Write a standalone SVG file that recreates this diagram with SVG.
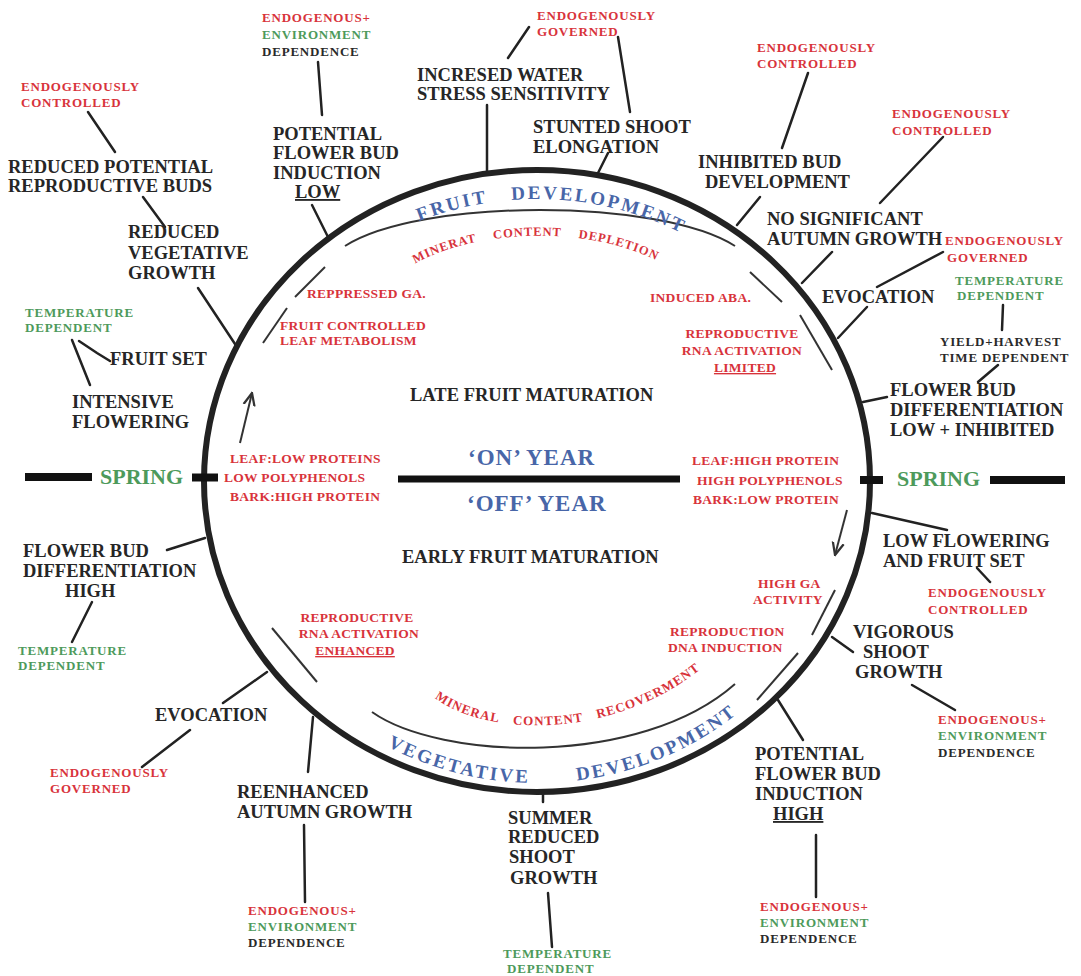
<svg xmlns="http://www.w3.org/2000/svg" width="1081" height="976" viewBox="0 0 1081 976">
<style>
text{font-family:"Liberation Serif","Times New Roman",serif;font-weight:bold}
.d{fill:#262626;font-size:18.5px}
.s{font-size:13px;letter-spacing:0.8px}
.m{font-size:13.5px;letter-spacing:0.3px}
.r{fill:#d8333b}
.g{fill:#4d9a5b}
.k{fill:#2a2a2a}
.b{fill:#4866a8}
.u{text-decoration:underline}
.c line,.c polyline{stroke:#222;stroke-width:2.5;fill:none;stroke-linecap:round}
.thin{stroke:#333;stroke-width:2;fill:none}
.bar{stroke:#111;stroke-width:8}
</style>
<defs>
<marker id="ah" viewBox="0 0 10 10" refX="9" refY="5" markerWidth="7" markerHeight="7" orient="auto">
<path d="M0,1 L9,5 L0,9" fill="none" stroke="#333" stroke-width="1.6"/>
</marker>
<path id="pTop" d="M410,225 A303,282 0 0 1 700,243.3"/>
<path id="pBot" d="M387,746.3 A314,302 0 0 0 760,693.6"/>
<path id="pMinTop" d="M405,270 C470,225 610,222 680,275"/>
<path id="pMinBot" d="M430,694 C480,738 620,744 715,657"/>
</defs>
<rect width="1081" height="976" fill="#fff"/>

<g id="cycle">
<ellipse cx="537" cy="481" rx="333" ry="311" fill="none" stroke="#222" stroke-width="6"/>
<path class="thin" d="M345,246 C420,198 660,198 735,246"/>
<path class="thin" d="M372,712 C440,760 640,768 735,684"/>
<line class="thin" x1="295" y1="297" x2="325" y2="267"/>
<line class="thin" x1="263" y1="343" x2="287" y2="308"/>
<line class="thin" x1="750" y1="272" x2="782" y2="302"/>
<line class="thin" x1="800" y1="315" x2="832" y2="370"/>
<line class="thin" x1="835" y1="590" x2="812" y2="635"/>
<line class="thin" x1="798" y1="653" x2="757" y2="700"/>
<line class="thin" x1="272" y1="628" x2="317" y2="682"/>
<line class="thin" x1="240" y1="443" x2="252" y2="393" marker-end="url(#ah)"/>
<line class="thin" x1="847" y1="510" x2="835" y2="555" marker-end="url(#ah)"/>
<line class="bar" x1="398" y1="479" x2="680" y2="479" style="stroke-width:7"/>
</g>

<g id="n-fruit-dev"><text class="b" font-size="19" letter-spacing="2.5"><textPath href="#pTop" startOffset="10">FRUIT</textPath></text><text class="b" font-size="19" letter-spacing="2.5"><textPath href="#pTop" startOffset="105">DEVELOPMENT</textPath></text></g>
<g id="n-veg-dev"><text class="b" font-size="19" letter-spacing="2.5"><textPath href="#pBot" startOffset="0">VEGETATIVE</textPath></text><text class="b" font-size="19" letter-spacing="2.5"><textPath href="#pBot" startOffset="196">DEVELOPMENT</textPath></text></g>
<g id="n-mineral-top"><text class="r" font-size="12.5" letter-spacing="0.9" word-spacing="13"><textPath href="#pMinTop" startOffset="12">MINERAT CONTENT DEPLETION</textPath></text></g>
<g id="n-mineral-bottom"><text class="r" font-size="13" letter-spacing="1" word-spacing="10"><textPath href="#pMinBot" startOffset="6">MINERAL CONTENT RECOVERMENT</textPath></text></g>

<g id="n-on-year"><text class="b" x="468" y="465" font-size="23" letter-spacing="1">‘ON’ YEAR</text></g>
<g id="n-off-year"><text class="b" x="467" y="511" font-size="23" letter-spacing="1">‘OFF’ YEAR</text></g>
<g id="n-late"><text class="d" x="410" y="401">LATE FRUIT MATURATION</text></g>
<g id="n-early"><text class="d" x="402" y="563">EARLY FRUIT MATURATION</text></g>
<g id="n-left-chem" class="r m"><text x="230" y="463">LEAF:LOW PROTEINS</text><text x="224" y="482">LOW POLYPHENOLS</text><text x="230" y="501">BARK:HIGH PROTEIN</text></g>
<g id="n-right-chem" class="r m"><text x="692" y="465">LEAF:HIGH PROTEIN</text><text x="697" y="485">HIGH POLYPHENOLS</text><text x="693" y="504">BARK:LOW PROTEIN</text></g>
<g id="n-repressed"><text class="r m" x="307" y="298">REPPRESSED GA.</text></g>
<g id="n-fruit-ctrl" class="r m"><text x="280" y="330">FRUIT CONTROLLED</text><text x="280" y="345">LEAF METABOLISM</text></g>
<g id="n-aba"><text class="r m" x="650" y="302">INDUCED ABA.</text></g>
<g id="n-rna-limited" class="r m" text-anchor="middle"><text x="742" y="338">REPRODUCTIVE</text><text x="742" y="355">RNA ACTIVATION</text><text class="u" x="745" y="372">LIMITED</text></g>
<g id="n-rna-enhanced" class="r m" text-anchor="middle"><text x="357" y="622">REPRODUCTIVE</text><text x="359" y="638">RNA ACTIVATION</text><text class="u" x="355" y="655">ENHANCED</text></g>
<g id="n-highga" class="r m"><text x="758" y="588">HIGH GA</text><text x="753" y="604">ACTIVITY</text></g>
<g id="n-dna" class="r m"><text x="670" y="636">REPRODUCTION</text><text x="668" y="652">DNA INDUCTION</text></g>

<g id="connectors" class="c">
<line x1="88" y1="112" x2="115" y2="152"/>
<line x1="143" y1="197" x2="165" y2="227"/>
<line x1="198" y1="288" x2="237" y2="347"/>
<line x1="72" y1="340" x2="90" y2="385"/>
<polyline points="79,341 97,353 110,361"/>
<line x1="167" y1="550" x2="205" y2="538"/>
<line x1="92" y1="602" x2="72" y2="642"/>
<line x1="223" y1="703" x2="267" y2="672"/>
<line x1="190" y1="730" x2="142" y2="767"/>
<line x1="313" y1="717" x2="308" y2="772"/>
<line x1="304" y1="825" x2="305" y2="902"/>
<line x1="543" y1="793" x2="543" y2="802"/>
<line x1="548" y1="893" x2="552" y2="947"/>
<line x1="778" y1="700" x2="803" y2="740"/>
<line x1="816" y1="835" x2="816" y2="897"/>
<line x1="832" y1="637" x2="853" y2="652"/>
<line x1="912" y1="685" x2="955" y2="710"/>
<line x1="872" y1="513" x2="947" y2="530"/>
<line x1="977" y1="568" x2="990" y2="582"/>
<line x1="863" y1="402" x2="887" y2="397"/>
<line x1="998" y1="365" x2="978" y2="382"/>
<line x1="1003" y1="305" x2="1002" y2="330"/>
<line x1="838" y1="338" x2="867" y2="307"/>
<line x1="877" y1="287" x2="943" y2="252"/>
<line x1="802" y1="283" x2="832" y2="252"/>
<line x1="880" y1="203" x2="943" y2="137"/>
<line x1="737" y1="225" x2="760" y2="197"/>
<line x1="782" y1="148" x2="808" y2="73"/>
<line x1="598" y1="173" x2="608" y2="153"/>
<line x1="630" y1="112" x2="618" y2="37"/>
<line x1="508" y1="58" x2="529" y2="27"/>
<line x1="487" y1="105" x2="487" y2="172"/>
<line x1="318" y1="62" x2="322" y2="115"/>
<line x1="312" y1="205" x2="328" y2="237"/>
</g>

<g id="n-endo-tl" class="r s"><text x="21" y="91">ENDOGENOUSLY</text><text x="21" y="107">CONTROLLED</text></g>
<g id="n-reduced-potential" class="d"><text x="8" y="173">REDUCED POTENTIAL</text><text x="8" y="192">REPRODUCTIVE BUDS</text></g>
<g id="n-reduced-veg" class="d"><text x="128" y="238">REDUCED</text><text x="128" y="258.5">VEGETATIVE</text><text x="128" y="279">GROWTH</text></g>
<g id="n-temp-l1" class="g s"><text x="25" y="317">TEMPERATURE</text><text x="25" y="332">DEPENDENT</text></g>
<g id="n-fruit-set"><text class="d" x="110" y="365">FRUIT SET</text></g>
<g id="n-intensive" class="d"><text x="72" y="408">INTENSIVE</text><text x="72" y="428">FLOWERING</text></g>
<g id="n-spring-l"><line class="bar" x1="25" y1="477" x2="92" y2="477"/><line class="bar" x1="192" y1="477.5" x2="218" y2="477.5"/><text class="g" x="100" y="484" font-size="22">SPRING</text></g>
<g id="n-fbd-high" class="d"><text x="23" y="557">FLOWER BUD</text><text x="23" y="577">DIFFERENTIATION</text><text x="65" y="597">HIGH</text></g>
<g id="n-temp-l2" class="g s"><text x="18" y="655">TEMPERATURE</text><text x="18" y="670">DEPENDENT</text></g>
<g id="n-evocation-l"><text class="d" x="155" y="721">EVOCATION</text></g>
<g id="n-endo-gov-bl" class="r s"><text x="50" y="777">ENDOGENOUSLY</text><text x="50" y="793">GOVERNED</text></g>
<g id="n-reenhanced" class="d"><text x="237" y="798">REENHANCED</text><text x="237" y="818">AUTUMN GROWTH</text></g>
<g id="n-endoenv-b1" class="s"><text class="r" x="248" y="915">ENDOGENOUS+</text><text class="g" x="248" y="931">ENVIRONMENT</text><text class="k" x="248" y="947">DEPENDENCE</text></g>
<g id="n-summer" class="d"><text x="508" y="824">SUMMER</text><text x="508" y="843">REDUCED</text><text x="509" y="863">SHOOT</text><text x="510" y="884">GROWTH</text></g>
<g id="n-temp-b" class="g s"><text x="503" y="958">TEMPERATURE</text><text x="507" y="973">DEPENDENT</text></g>
<g id="n-pfbi-high" class="d"><text x="755" y="760">POTENTIAL</text><text x="755" y="780">FLOWER BUD</text><text x="755" y="800">INDUCTION</text><text class="u" x="773" y="820">HIGH</text></g>
<g id="n-endoenv-b2" class="s"><text class="r" x="760" y="911">ENDOGENOUS+</text><text class="g" x="760" y="927">ENVIRONMENT</text><text class="k" x="760" y="943">DEPENDENCE</text></g>
<g id="n-vigorous" class="d"><text x="853" y="638">VIGOROUS</text><text x="863" y="658">SHOOT</text><text x="855" y="678">GROWTH</text></g>
<g id="n-endoenv-r" class="s"><text class="r" x="938" y="724">ENDOGENOUS+</text><text class="g" x="938" y="740">ENVIRONMENT</text><text class="k" x="938" y="757">DEPENDENCE</text></g>
<g id="n-low-flowering" class="d"><text x="883" y="547">LOW FLOWERING</text><text x="883" y="567">AND FRUIT SET</text></g>
<g id="n-endo-ctrl-r" class="r s"><text x="928" y="597">ENDOGENOUSLY</text><text x="928" y="614">CONTROLLED</text></g>
<g id="n-spring-r"><line class="bar" x1="860" y1="480" x2="883" y2="480"/><line class="bar" x1="990" y1="480" x2="1065" y2="480"/><text class="g" x="897" y="486" font-size="22">SPRING</text></g>
<g id="n-fbd-low" class="d"><text x="890" y="396">FLOWER BUD</text><text x="890" y="416">DIFFERENTIATION</text><text x="890" y="436">LOW + INHIBITED</text></g>
<g id="n-yield" class="k s"><text x="940" y="346">YIELD+HARVEST</text><text x="940" y="362">TIME DEPENDENT</text></g>
<g id="n-temp-r" class="g s"><text x="955" y="285">TEMPERATURE</text><text x="957" y="300">DEPENDENT</text></g>
<g id="n-evocation-r"><text class="d" x="822" y="303">EVOCATION</text></g>
<g id="n-endo-gov-r" class="r s"><text x="945" y="245">ENDOGENOUSLY</text><text x="947" y="262">GOVERNED</text></g>
<g id="n-no-sig" class="d"><text x="767" y="225">NO SIGNIFICANT</text><text x="767" y="245">AUTUMN GROWTH</text></g>
<g id="n-endo-ctrl-r2" class="r s"><text x="892" y="118">ENDOGENOUSLY</text><text x="892" y="135">CONTROLLED</text></g>
<g id="n-inhibited" class="d"><text x="698" y="168">INHIBITED BUD</text><text x="705" y="188">DEVELOPMENT</text></g>
<g id="n-endo-ctrl-r3" class="r s"><text x="757" y="52">ENDOGENOUSLY</text><text x="757" y="68">CONTROLLED</text></g>
<g id="n-stunted" class="d"><text x="533" y="133">STUNTED SHOOT</text><text x="533" y="153">ELONGATION</text></g>
<g id="n-endo-gov-t" class="r s"><text x="537" y="20">ENDOGENOUSLY</text><text x="537" y="36">GOVERNED</text></g>
<g id="n-water" class="d"><text x="417" y="81">INCRESED WATER</text><text x="417" y="100">STRESS SENSITIVITY</text></g>
<g id="n-endoenv-t" class="s"><text class="r" x="262" y="22">ENDOGENOUS+</text><text class="g" x="262" y="39">ENVIRONMENT</text><text class="k" x="262" y="56">DEPENDENCE</text></g>
<g id="n-pfbi-low" class="d"><text x="273" y="140">POTENTIAL</text><text x="273" y="159">FLOWER BUD</text><text x="273" y="178.5">INDUCTION</text><text class="u" x="295" y="198">LOW</text></g>
</svg>
